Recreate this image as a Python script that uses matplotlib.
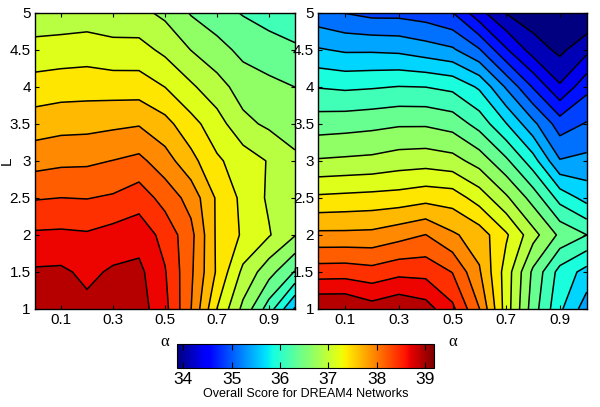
import numpy as np
import matplotlib
matplotlib.use('Agg')
import matplotlib.pyplot as plt

plt.rcParams['font.family'] = ['Liberation Sans', 'DejaVu Sans']

alpha = np.array([0.0, 0.1, 0.2, 0.3, 0.4, 0.5, 0.6, 0.7, 0.8, 0.9, 1.0])
L = np.array([1.0, 1.5, 2.0, 2.5, 3.0, 3.5, 4.0, 4.5, 5.0])

# rows: L = 1 .. 5, columns: alpha = 0 .. 1
score_left = np.array([
    [39.05, 39.03, 39.00, 39.05, 39.05, 38.76, 38.18, 37.41, 36.84, 36.27, 35.60],
    [38.97, 38.98, 38.88, 38.97, 39.00, 38.70, 38.22, 37.63, 37.10, 36.75, 36.38],
    [38.72, 38.73, 38.71, 38.78, 38.83, 38.60, 38.25, 37.62, 37.38, 37.18, 36.92],
    [38.41, 38.43, 38.42, 38.46, 38.57, 38.33, 38.08, 37.63, 37.35, 37.12, 37.02],
    [38.08, 38.12, 38.13, 38.18, 38.24, 38.03, 37.75, 37.45, 37.30, 37.14, 36.95],
    [37.79, 37.83, 37.84, 37.87, 37.90, 37.75, 37.50, 37.27, 36.97, 36.86, 36.80],
    [37.52, 37.55, 37.56, 37.55, 37.54, 37.41, 37.20, 37.00, 36.80, 36.72, 36.65],
    [37.25, 37.27, 37.29, 37.24, 37.25, 37.10, 36.90, 36.75, 36.58, 36.50, 36.44],
    [36.99, 37.00, 37.02, 37.00, 36.97, 36.85, 36.63, 36.49, 36.38, 36.30, 36.22],
])

score_right = np.array([
    [39.19, 39.19, 39.05, 39.15, 39.05, 38.74, 38.18, 37.29, 36.52, 35.94, 35.50],
    [38.56, 38.57, 38.52, 38.61, 38.60, 38.42, 37.95, 37.30, 36.60, 36.05, 35.80],
    [37.98, 37.98, 37.99, 38.08, 38.18, 37.96, 37.80, 37.45, 37.00, 36.60, 36.40],
    [37.46, 37.48, 37.50, 37.52, 37.58, 37.55, 37.30, 36.95, 36.55, 36.05, 35.80],
    [36.93, 36.95, 36.97, 37.03, 37.05, 37.00, 36.80, 36.45, 36.00, 35.40, 35.45],
    [36.53, 36.55, 36.58, 36.62, 36.62, 36.55, 36.30, 35.90, 35.45, 35.00, 35.15],
    [36.13, 36.10, 36.12, 36.15, 36.14, 36.08, 35.85, 35.35, 34.85, 34.40, 34.80],
    [35.66, 35.60, 35.60, 35.58, 35.50, 35.42, 35.15, 34.65, 34.25, 34.05, 34.30],
    [35.21, 35.12, 35.05, 35.05, 35.00, 34.88, 34.45, 34.10, 33.95, 33.92, 33.86],
])

cbar_ticks = [34, 35, 36, 37, 38, 39]
zmin, zmax = 33.86, 39.19

levels = np.linspace(zmin, zmax, 22)
norm = plt.Normalize(zmin, zmax)
cmap = plt.get_cmap('jet')
# matlab style: each band gets the colour of its lower level
band_colors = [cmap(norm(v)) for v in levels[:-1]]

fig = plt.figure(figsize=(6, 4.07), dpi=100)
ax1 = fig.add_axes([35 / 600, 1 - 309 / 407, 260 / 600, 296.3 / 407])
ax2 = fig.add_axes([318.3 / 600, 1 - 309 / 407, 268.4 / 600, 296.3 / 407])

for ax, Z in [(ax1, score_left), (ax2, score_right)]:
    ax.contourf(alpha, L, Z, levels=levels, colors=band_colors, extend='both')
    ax.contour(alpha, L, Z, levels=levels[1:-1], colors='k', linewidths=1.1)
    ax.set_xlim(0, 1)
    ax.set_ylim(1, 5)
    ax.set_xticks([0.1, 0.3, 0.5, 0.7, 0.9])
    ax.set_yticks([1, 1.5, 2, 2.5, 3, 3.5, 4, 4.5, 5])
    ax.set_yticklabels(['1', '1.5', '2', '2.5', '3', '3.5', '4', '4.5', '5'])
    ax.tick_params(direction='in', length=3, width=0.8, top=True, right=True,
                   labelsize=11, pad=3)
    ax.set_xlabel('α', fontsize=12, family=['Liberation Serif', 'DejaVu Serif'])
    ax.xaxis.set_label_coords(0.5, -0.085)
    for s in ax.spines.values():
        s.set_linewidth(1.0)

ax1.set_ylabel('L', fontsize=11)
ax1.yaxis.set_label_coords(-0.08, 0.5)

cax = fig.add_axes([176.7 / 600, 1 - 367.7 / 407, 257.6 / 600, 23.7 / 407])
sm = plt.cm.ScalarMappable(norm=norm, cmap=cmap)
cb = fig.colorbar(sm, cax=cax, orientation='horizontal', ticks=cbar_ticks)
cb.ax.tick_params(direction='in', length=4, width=0.8, labelsize=12.5, top=True, pad=3)
cb.set_label('Overall Score for DREAM4 Networks', fontsize=9, labelpad=1)
cb.outline.set_linewidth(0.8)

fig.savefig('out.png', dpi=100)
